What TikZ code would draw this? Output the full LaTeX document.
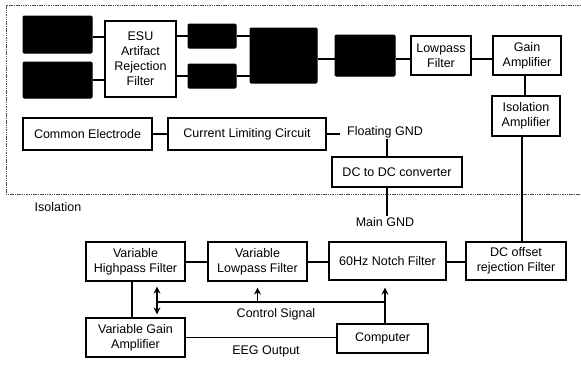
\documentclass[tikz,border=0pt]{standalone}
\usepackage{fontspec}
\setmainfont{Liberation Sans}
\usetikzlibrary{calc,arrows.meta}
\begin{document}
\begin{tikzpicture}[x=1pt,y=-1pt,
  box/.style={draw, line width=1.2pt, inner sep=1pt, align=center, font=\fontsize{12.5}{15}\selectfont},
  blk/.style={draw, fill=black, line width=1pt, rounded corners=1pt},
  lbl/.style={inner sep=1pt, font=\fontsize{12.5}{15}\selectfont},
  wire/.style={line width=1.2pt},
  arr/.style={line width=1.2pt, -{Stealth[length=7pt,width=7pt]}},
  darr/.style={line width=1.2pt, {Stealth[length=7pt,width=7pt]}-{Stealth[length=7pt,width=7pt]}},
  iso/.style={line width=0.6pt, dash pattern=on 1.5pt off 0.8pt, black!70}]
\useasboundingbox (0,0) rectangle (581,365);
% isolation border
\draw[iso] (581,5) -- (6,5) -- (6,194) -- (581,194);
\node[lbl] (isotxt) at (58,207) {Isolation};
% top chain
\node[blk, minimum width=69pt, minimum height=37pt] (b1) at (57.5,34.5) {};
\node[blk, minimum width=69pt, minimum height=36pt] (b2) at (57.5,80) {};
\node[box, minimum width=71pt, minimum height=76pt] (esu) at (140.5,59) {ESU\\Artifact\\Rejection\\Filter};
\node[blk, minimum width=48pt, minimum height=24pt] (b3) at (212,36) {};
\node[blk, minimum width=48pt, minimum height=24pt] (b4) at (212,76) {};
\node[blk, minimum width=67pt, minimum height=55pt] (b5) at (283.5,55.5) {};
\node[blk, minimum width=60pt, minimum height=41pt] (b6) at (365,55.5) {};
\node[box, minimum width=60pt, minimum height=39pt] (lp) at (441,55.5) {Lowpass\\Filter};
\node[box, minimum width=68pt, minimum height=39pt] (gain) at (527,55.5) {Gain\\Amplifier};
\node[box, minimum width=68pt, minimum height=40pt] (isoamp) at (526,116) {Isolation\\Amplifier};
\node[box, minimum width=129pt, minimum height=32pt] (ce) at (87.5,134) {Common Electrode};
\node[box, minimum width=158pt, minimum height=32pt] (cl) at (247,134) {Current Limiting Circuit};
\node[lbl] (fgnd) at (385,132) {Floating GND};
\node[box, minimum width=130pt, minimum height=30pt] (dcdc) at (397,172) {DC to DC converter};
\node[lbl] (mgnd) at (385,222) {Main GND};
% bottom chain
\node[box, minimum width=99pt, minimum height=39pt] (vhp) at (135.5,261.5) {Variable\\Highpass Filter};
\node[box, minimum width=99pt, minimum height=39pt] (vlp) at (257.5,261.5) {Variable\\Lowpass Filter};
\node[box, minimum width=117pt, minimum height=38pt] (notch) at (387.5,261) {60Hz Notch Filter};
\node[box, minimum width=100pt, minimum height=38pt] (dco) at (516,261) {DC offset\\rejection Filter};
\node[box, minimum width=99pt, minimum height=39pt] (vga) at (135.5,337.5) {Variable Gain\\Amplifier};
\node[box, minimum width=91pt, minimum height=29pt] (comp) at (382.5,338.5) {Computer};
\node[lbl] (cstxt) at (276,314) {Control Signal};
\node[lbl] (eegtxt) at (266,351) {EEG Output};
% top connectors
\draw[wire] (b1.east |- 0,37) -- (esu.west |- 0,37);
\draw[wire] (b2.east |- 0,80) -- (esu.west |- 0,80);
\draw[wire] (esu.east |- b3) -- (b3.west);
\draw[wire] (esu.east |- b4) -- (b4.west);
\draw[wire] (b3.east) -- (b3.east -| b5.west);
\draw[wire] (b4.east) -- (b4.east -| b5.west);
\draw[wire] (b5.east |- 0,59) -- (b6.west |- 0,59);
\draw[wire] (b6.east |- 0,59) -- (lp.west |- 0,59);
\draw[wire] (lp.east |- 0,59) -- (gain.west |- 0,59);
\draw[wire] (gain.south -| 525,0) -- (isoamp.north -| 525,0);
\draw[wire] (ce.east) -- (cl.west);
\draw[wire] (cl.east) -- ($(fgnd.west |- cl.east)+(-6,0)$);
\draw[wire] (fgnd.south -| 387,0) -- (dcdc.north -| 387,0);
\draw[wire] (dcdc.south -| 387,0) -- (mgnd.north -| 387,0);
\draw[wire] (isoamp.south -| 522,0) -- (dco.north -| 522,0);
% bottom connectors
\draw[wire] (vhp.east |- 0,262) -- (vlp.west |- 0,262);
\draw[wire] (vlp.east |- 0,262) -- (notch.west |- 0,262);
\draw[wire] (notch.east |- 0,262) -- (dco.west |- 0,262);
\draw[wire] (vhp.south -| 132,0) -- (vga.north -| 132,0);
\coordinate (c1) at (157,302);
\coordinate (c2) at (385,302);
\draw[darr] ($(vhp.south -| c1)+(0,5)$) -- ($(vga.north -| c1)+(0,-3)$);
\draw[wire] (c1) -- (c2);
\draw[arr] (c1 -| vlp) -- ($(vlp.south)+(0,6)$);
\draw[arr] (comp.north -| c2) -- ($(notch.south -| c2)+(0,7)$);
\draw[wire] (vga.east) -- (vga.east -| comp.west);
\end{tikzpicture}
\end{document}
